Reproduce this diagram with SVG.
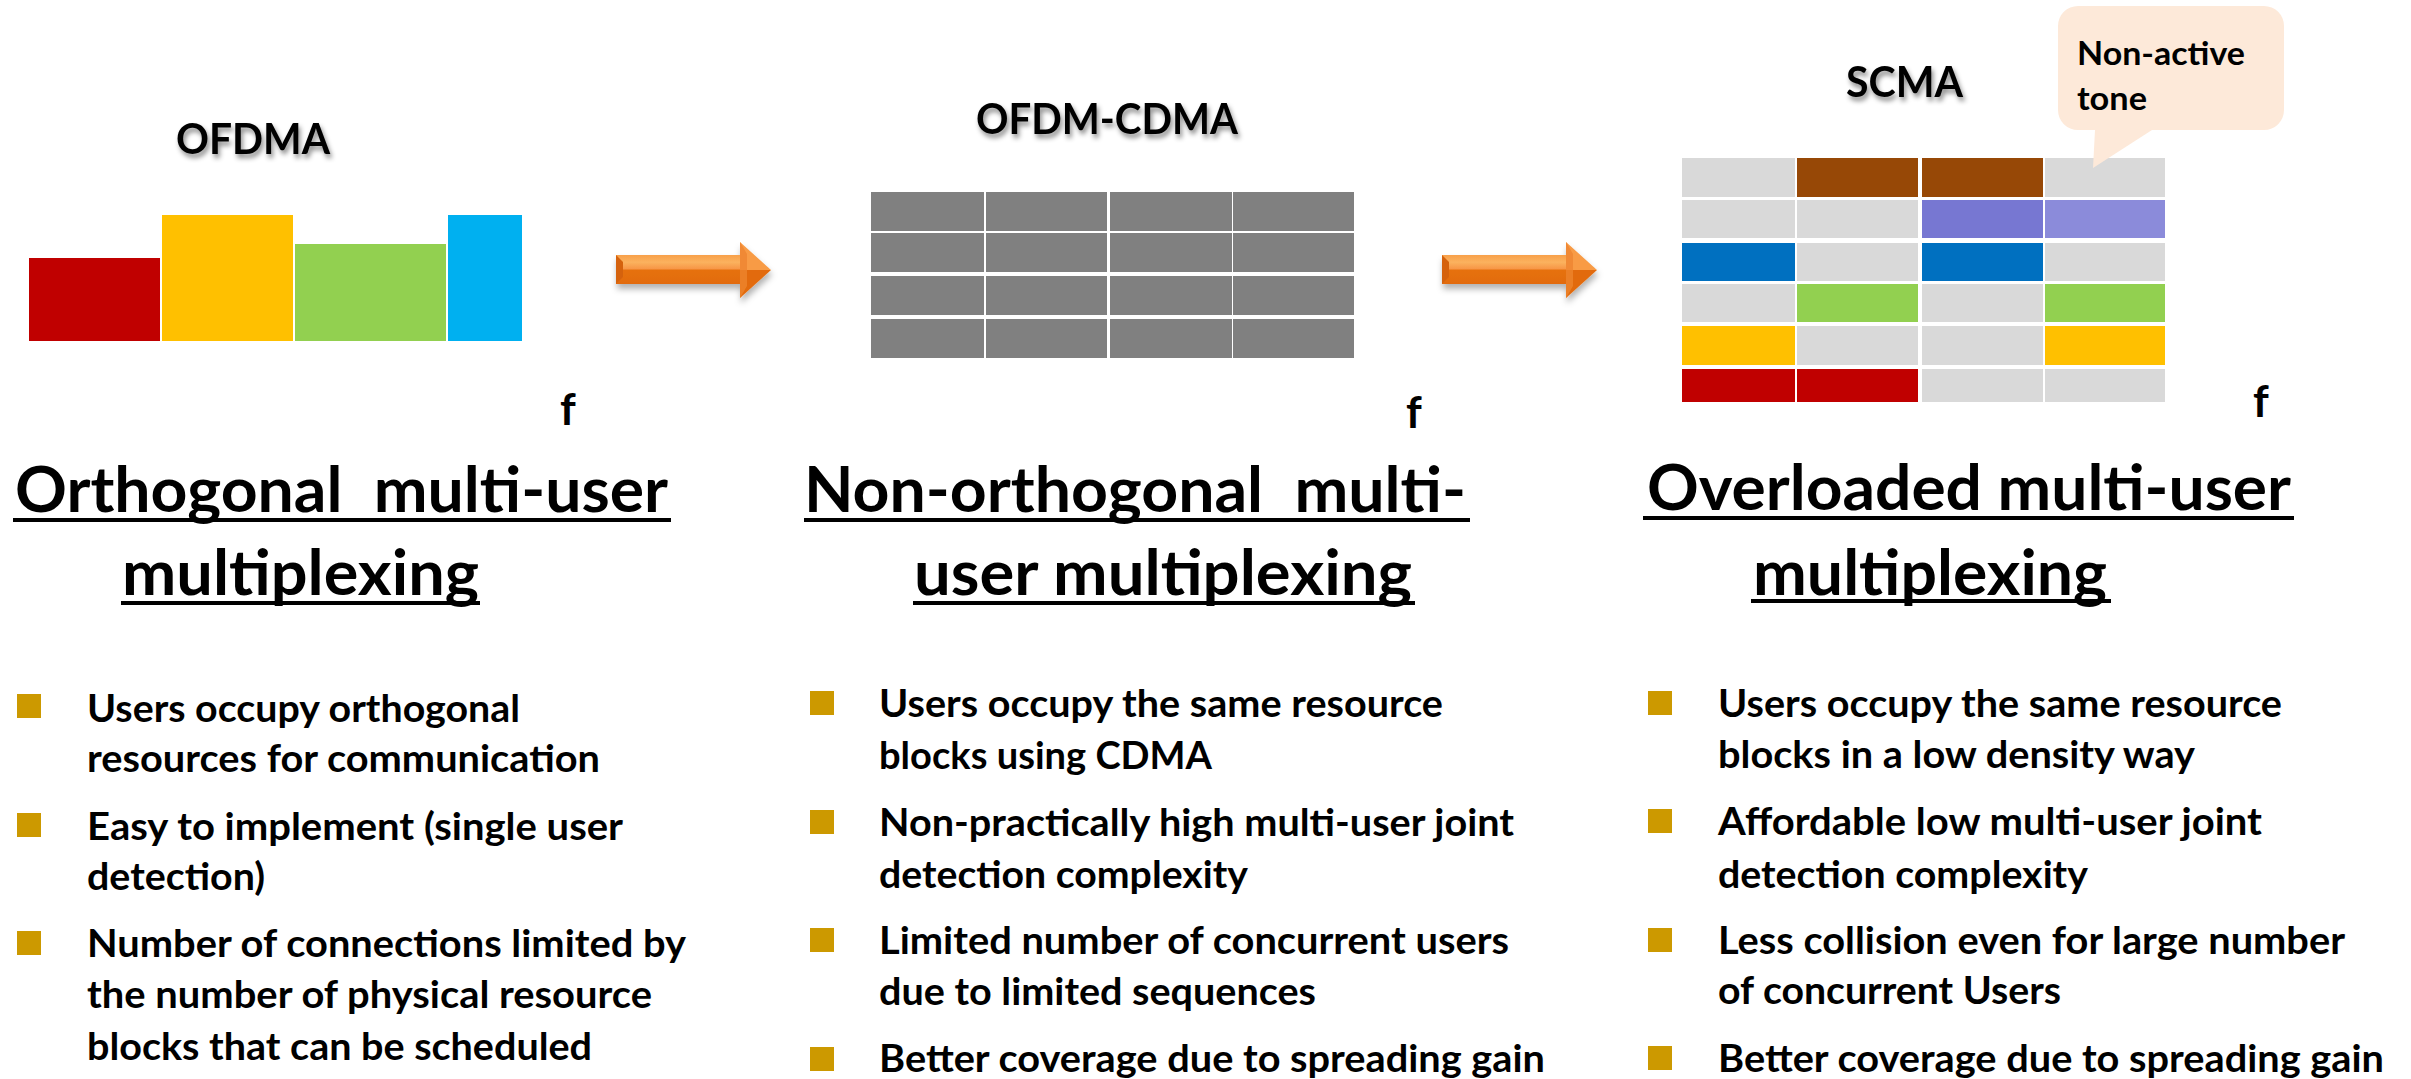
<svg xmlns="http://www.w3.org/2000/svg" width="2411" height="1079" viewBox="0 0 2411 1079">
  <style>
    text { font-family: Lato, "Open Sans", "Liberation Sans", sans-serif; font-weight: 700; fill: #000; }
    .hdr { font-size: 42px; }
    .ttl { font-size: 63px; }
    .body { font-size: 38px; }
    .axis { font-size: 44px; }
    .call { font-size: 32px; }
    .ul { fill: #000; }
    .bul { fill: #CC9900; }
    .grey { fill: #808080; }
    .off { fill: #D9D9D9; }
  </style>
  <defs>
    <filter id="txtShadow" x="-10%" y="-30%" width="130%" height="180%">
      <feDropShadow dx="2" dy="4" stdDeviation="2.5" flood-color="#000" flood-opacity="0.45"/>
    </filter>
    <filter id="arrowShadow" x="-10%" y="-30%" width="130%" height="180%">
      <feDropShadow dx="1" dy="5" stdDeviation="3" flood-color="#000" flood-opacity="0.3"/>
    </filter>
    <linearGradient id="shaftFill" x1="0" y1="0" x2="0" y2="1">
      <stop offset="0" stop-color="#F8A04A"/>
      <stop offset="0.25" stop-color="#FBB25E"/>
      <stop offset="0.48" stop-color="#F79646"/>
      <stop offset="0.52" stop-color="#E6710E"/>
      <stop offset="1" stop-color="#E26B0A"/>
    </linearGradient>
    <g id="arrow">
      <polygon points="0,13 126,13 126,42 0,42" fill="url(#shaftFill)"/>
      <polygon points="0,13 7,20 7,35 0,42" fill="#D5620A"/>
      <polygon points="124,0 155,28 124,28" fill="#F89B45"/>
      <polygon points="124,28 155,28 124,56" fill="#E26B0A"/>
      <polygon points="124,0 131,12 131,44 124,56" fill="#EE8530" opacity="0.8"/>
    </g>
  </defs>

  <rect width="2411" height="1079" fill="#fff"/>

  <!-- OFDMA: orthogonal frequency blocks -->
  <g id="ofdma">
    <text class="hdr" x="176" y="154" textLength="154" lengthAdjust="spacingAndGlyphs" filter="url(#txtShadow)">OFDMA</text>
    <rect x="29" y="258" width="131" height="83" fill="#C00000"/>
    <rect x="162" y="215" width="131" height="126" fill="#FFC000"/>
    <rect x="295" y="244" width="151" height="97" fill="#92D050"/>
    <rect x="448" y="215" width="74" height="126" fill="#00B0F0"/>
    <text class="axis" x="560" y="425">f</text>
  </g>

  <!-- OFDM-CDMA: every user spread over all blocks -->
  <g id="ofdm-cdma">
    <text class="hdr" x="976" y="134" textLength="262" lengthAdjust="spacingAndGlyphs" filter="url(#txtShadow)">OFDM-CDMA</text>
    <g class="grey">
      <rect x="871" y="192" width="113" height="39"/>
      <rect x="986" y="192" width="121" height="39"/>
      <rect x="1110" y="192" width="122" height="39"/>
      <rect x="1233" y="192" width="121" height="39"/>
      <rect x="871" y="233" width="113" height="39"/>
      <rect x="986" y="233" width="121" height="39"/>
      <rect x="1110" y="233" width="122" height="39"/>
      <rect x="1233" y="233" width="121" height="39"/>
      <rect x="871" y="276" width="113" height="39"/>
      <rect x="986" y="276" width="121" height="39"/>
      <rect x="1110" y="276" width="122" height="39"/>
      <rect x="1233" y="276" width="121" height="39"/>
      <rect x="871" y="319" width="113" height="39"/>
      <rect x="986" y="319" width="121" height="39"/>
      <rect x="1110" y="319" width="122" height="39"/>
      <rect x="1233" y="319" width="121" height="39"/>
    </g>
    <text class="axis" x="1406" y="428">f</text>
  </g>

  <!-- SCMA: sparse codebook mapping -->
  <g id="scma">
    <text class="hdr" x="1846" y="97" textLength="117" lengthAdjust="spacingAndGlyphs" filter="url(#txtShadow)">SCMA</text>
    <!-- row 1 -->
    <rect class="off" x="1682" y="158" width="113" height="39"/>
    <rect x="1797" y="158" width="121" height="39" fill="#974806"/>
    <rect x="1922" y="158" width="121" height="39" fill="#974806"/>
    <rect class="off" x="2045" y="158" width="120" height="39"/>
    <!-- row 2 -->
    <rect class="off" x="1682" y="200" width="113" height="38"/>
    <rect class="off" x="1797" y="200" width="121" height="38"/>
    <rect x="1922" y="200" width="121" height="38" fill="#7777D2"/>
    <rect x="2045" y="200" width="120" height="38" fill="#8B8BDA"/>
    <!-- row 3 -->
    <rect x="1682" y="243" width="113" height="38" fill="#0070C0"/>
    <rect class="off" x="1797" y="243" width="121" height="38"/>
    <rect x="1922" y="243" width="121" height="38" fill="#0070C0"/>
    <rect class="off" x="2045" y="243" width="120" height="38"/>
    <!-- row 4 -->
    <rect class="off" x="1682" y="284" width="113" height="38"/>
    <rect x="1797" y="284" width="121" height="38" fill="#92D050"/>
    <rect class="off" x="1922" y="284" width="121" height="38"/>
    <rect x="2045" y="284" width="120" height="38" fill="#92D050"/>
    <!-- row 5 -->
    <rect x="1682" y="326" width="113" height="39" fill="#FFC000"/>
    <rect class="off" x="1797" y="326" width="121" height="39"/>
    <rect class="off" x="1922" y="326" width="121" height="39"/>
    <rect x="2045" y="326" width="120" height="39" fill="#FFC000"/>
    <!-- row 6 -->
    <rect x="1682" y="369" width="113" height="33" fill="#C00000"/>
    <rect x="1797" y="369" width="121" height="33" fill="#C00000"/>
    <rect class="off" x="1922" y="369" width="121" height="33"/>
    <rect class="off" x="2045" y="369" width="120" height="33"/>
    <text class="axis" x="2253" y="417">f</text>
  </g>

  <!-- callout marking an unused tone -->
  <g id="callout">
    <path d="M2078,6 H2264 A20,20 0 0 1 2284,26 V110 A20,20 0 0 1 2264,130 H2152 L2093,168 L2095,130 H2078 A20,20 0 0 1 2058,110 V26 A20,20 0 0 1 2078,6 Z" fill="#FDE9D9"/>
    <text class="call" x="2077" y="65" textLength="168" lengthAdjust="spacingAndGlyphs">Non-active</text>
    <text class="call" x="2077" y="110" textLength="70" lengthAdjust="spacingAndGlyphs">tone</text>
  </g>

  <!-- transition arrows -->
  <g id="connectors" filter="url(#arrowShadow)">
    <use href="#arrow" x="616" y="242"/>
    <use href="#arrow" x="1442" y="242"/>
  </g>

  <!-- section headings -->
  <g id="title-orthogonal">
    <text class="ttl" x="15" y="512" textLength="653" lengthAdjust="spacingAndGlyphs" xml:space="preserve">Orthogonal  multi-user</text>
    <rect class="ul" x="13" y="518" width="658" height="4"/>
    <text class="ttl" x="122" y="595" textLength="357" lengthAdjust="spacingAndGlyphs">multiplexing</text>
    <rect class="ul" x="121" y="601" width="359" height="4"/>
  </g>
  <g id="title-nonorthogonal">
    <text class="ttl" x="804" y="512" textLength="662" lengthAdjust="spacingAndGlyphs" xml:space="preserve">Non-orthogonal  multi-</text>
    <rect class="ul" x="804" y="518" width="666" height="4"/>
    <text class="ttl" x="914" y="595" textLength="498" lengthAdjust="spacingAndGlyphs">user multiplexing</text>
    <rect class="ul" x="913" y="601" width="502" height="4"/>
  </g>
  <g id="title-overloaded">
    <text class="ttl" x="1647" y="510" textLength="644" lengthAdjust="spacingAndGlyphs">Overloaded multi-user</text>
    <rect class="ul" x="1643" y="516" width="651" height="4"/>
    <text class="ttl" x="1753" y="595" textLength="354" lengthAdjust="spacingAndGlyphs">multiplexing</text>
    <rect class="ul" x="1751" y="599" width="360" height="4"/>
  </g>

  <!-- bullet lists -->
  <g id="list-orthogonal">
    <rect class="bul" x="17" y="694" width="24" height="24"/>
    <rect class="bul" x="17" y="813" width="24" height="24"/>
    <rect class="bul" x="17" y="931" width="24" height="24"/>
    <text class="body" x="87" y="722" textLength="433" lengthAdjust="spacingAndGlyphs">Users occupy orthogonal</text>
    <text class="body" x="87" y="772" textLength="513" lengthAdjust="spacingAndGlyphs">resources for communication</text>
    <text class="body" x="87" y="840" textLength="536" lengthAdjust="spacingAndGlyphs">Easy to implement (single user</text>
    <text class="body" x="87" y="890" textLength="178" lengthAdjust="spacingAndGlyphs">detection)</text>
    <text class="body" x="87" y="957" textLength="599" lengthAdjust="spacingAndGlyphs">Number of connections limited by</text>
    <text class="body" x="87" y="1008" textLength="565" lengthAdjust="spacingAndGlyphs">the number of physical resource</text>
    <text class="body" x="87" y="1060" textLength="505" lengthAdjust="spacingAndGlyphs">blocks that can be scheduled</text>
  </g>
  <g id="list-nonorthogonal">
    <rect class="bul" x="810" y="691" width="24" height="24"/>
    <rect class="bul" x="810" y="810" width="24" height="24"/>
    <rect class="bul" x="810" y="928" width="24" height="24"/>
    <rect class="bul" x="810" y="1047" width="24" height="24"/>
    <text class="body" x="879" y="717" textLength="564" lengthAdjust="spacingAndGlyphs">Users occupy the same resource</text>
    <text class="body" x="879" y="769" textLength="333" lengthAdjust="spacingAndGlyphs">blocks using CDMA</text>
    <text class="body" x="879" y="836" textLength="635" lengthAdjust="spacingAndGlyphs">Non-practically high multi-user joint</text>
    <text class="body" x="879" y="888" textLength="369" lengthAdjust="spacingAndGlyphs">detection complexity</text>
    <text class="body" x="879" y="954" textLength="630" lengthAdjust="spacingAndGlyphs">Limited number of concurrent users</text>
    <text class="body" x="879" y="1005" textLength="437" lengthAdjust="spacingAndGlyphs">due to limited sequences</text>
    <text class="body" x="879" y="1072" textLength="666" lengthAdjust="spacingAndGlyphs">Better coverage due to spreading gain</text>
  </g>
  <g id="list-overloaded">
    <rect class="bul" x="1648" y="691" width="24" height="24"/>
    <rect class="bul" x="1648" y="809" width="24" height="24"/>
    <rect class="bul" x="1648" y="928" width="24" height="24"/>
    <rect class="bul" x="1648" y="1046" width="24" height="24"/>
    <text class="body" x="1718" y="717" textLength="564" lengthAdjust="spacingAndGlyphs">Users occupy the same resource</text>
    <text class="body" x="1718" y="768" textLength="477" lengthAdjust="spacingAndGlyphs">blocks in a low density way</text>
    <text class="body" x="1718" y="835" textLength="544" lengthAdjust="spacingAndGlyphs">Affordable low multi-user joint</text>
    <text class="body" x="1718" y="888" textLength="370" lengthAdjust="spacingAndGlyphs">detection complexity</text>
    <text class="body" x="1718" y="954" textLength="627" lengthAdjust="spacingAndGlyphs">Less collision even for large number</text>
    <text class="body" x="1718" y="1004" textLength="343" lengthAdjust="spacingAndGlyphs">of concurrent Users</text>
    <text class="body" x="1718" y="1072" textLength="666" lengthAdjust="spacingAndGlyphs">Better coverage due to spreading gain</text>
  </g>
</svg>
